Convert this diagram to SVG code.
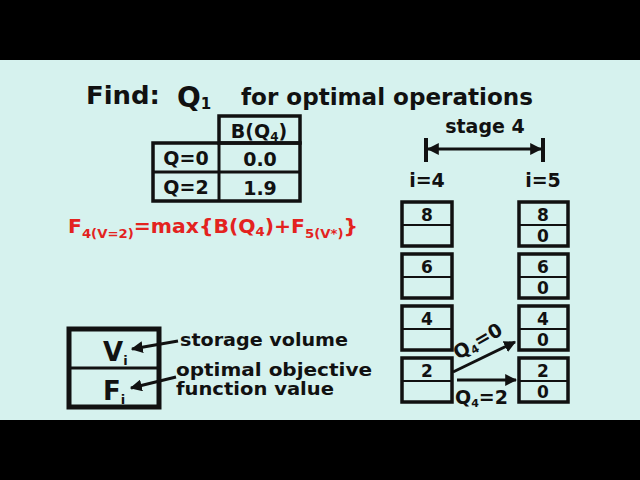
<svg xmlns="http://www.w3.org/2000/svg" width="640" height="480" viewBox="0 0 640 480">
<defs>
<style>
text{font-family:"DejaVu Sans","Liberation Sans",sans-serif;font-weight:bold;fill:#111}
.box{fill:none;stroke:#111;stroke-width:3.5}
.num{font-size:17px;text-anchor:middle}
.red{fill:#e3231f}
.lbl{font-size:18px}
</style>
<marker id="ah" viewBox="0 0 10 10" refX="9" refY="5" markerWidth="4" markerHeight="4" orient="auto-start-reverse"><path d="M0,0L10,5L0,10z" fill="#111"/></marker>
</defs>
<rect width="640" height="480" fill="#d6f2ee"/>
<rect width="640" height="60" fill="#000"/>
<rect y="420" width="640" height="60" fill="#000"/>

<g id="title">
<text x="86" y="104" font-size="25" textLength="74" lengthAdjust="spacingAndGlyphs">Find:</text>
<text x="177" y="107" font-size="28">Q<tspan font-size="15" dy="2">1</tspan></text>
<text x="241" y="105" font-size="23" textLength="292" lengthAdjust="spacingAndGlyphs">for optimal operations</text>
</g>

<g id="table">
<rect x="219" y="116" width="81" height="27" class="box"/>
<rect x="153" y="143" width="147" height="58" class="box"/>
<line x1="153" y1="172" x2="300" y2="172" stroke="#111" stroke-width="3"/>
<line x1="219" y1="143" x2="219" y2="201" stroke="#111" stroke-width="3"/>
<text x="259" y="138" font-size="19" text-anchor="middle" font-weight="normal">B(Q<tspan font-size="12" dy="3">4</tspan><tspan dy="-3">)</tspan></text>
<text x="186" y="165" font-size="19" text-anchor="middle">Q=0</text>
<text x="186" y="194" font-size="19" text-anchor="middle">Q=2</text>
<text x="260" y="166" font-size="19" text-anchor="middle">0.0</text>
<text x="260" y="195" font-size="19" text-anchor="middle">1.9</text>
</g>

<g id="formula">
<text x="68" y="233" font-size="20" class="red" textLength="290" lengthAdjust="spacingAndGlyphs">F<tspan font-size="13" dy="5">4(V=2)</tspan><tspan dy="-5">=max{B(Q</tspan><tspan font-size="13" dy="3">4</tspan><tspan dy="-3">)+F</tspan><tspan font-size="13" dy="5">5(V*)</tspan><tspan dy="-5">}</tspan></text>
</g>

<g id="stage">
<text x="485" y="133" font-size="19" text-anchor="middle">stage 4</text>
<line x1="426" y1="138" x2="426" y2="162" stroke="#111" stroke-width="4"/>
<line x1="543" y1="138" x2="543" y2="162" stroke="#111" stroke-width="4"/>
<text x="427" y="187" font-size="19" text-anchor="middle">i=4</text>
<text x="543" y="187" font-size="19" text-anchor="middle">i=5</text>
</g>

<g id="n4_8"><rect x="402" y="202" width="50" height="44" class="box"/><line x1="402" y1="225" x2="452" y2="225" stroke="#111" stroke-width="2"/><text x="427" y="221" class="num">8</text></g>
<g id="n4_6"><rect x="402" y="254" width="50" height="44" class="box"/><line x1="402" y1="277" x2="452" y2="277" stroke="#111" stroke-width="2"/><text x="427" y="273" class="num">6</text></g>
<g id="n4_4"><rect x="402" y="306" width="50" height="44" class="box"/><line x1="402" y1="329" x2="452" y2="329" stroke="#111" stroke-width="2"/><text x="427" y="325" class="num">4</text></g>
<g id="n4_2"><rect x="402" y="358" width="50" height="44" class="box"/><line x1="402" y1="381" x2="452" y2="381" stroke="#111" stroke-width="2"/><text x="427" y="377" class="num">2</text></g>

<g id="n5_8"><rect x="519" y="202" width="49" height="44" class="box"/><line x1="519" y1="225" x2="568" y2="225" stroke="#111" stroke-width="2"/><text x="543" y="221" class="num">8</text><text x="543" y="242" class="num">0</text></g>
<g id="n5_6"><rect x="519" y="254" width="49" height="44" class="box"/><line x1="519" y1="277" x2="568" y2="277" stroke="#111" stroke-width="2"/><text x="543" y="273" class="num">6</text><text x="543" y="294" class="num">0</text></g>
<g id="n5_4"><rect x="519" y="306" width="49" height="44" class="box"/><line x1="519" y1="329" x2="568" y2="329" stroke="#111" stroke-width="2"/><text x="543" y="325" class="num">4</text><text x="543" y="346" class="num">0</text></g>
<g id="n5_2"><rect x="519" y="358" width="49" height="44" class="box"/><line x1="519" y1="381" x2="568" y2="381" stroke="#111" stroke-width="2"/><text x="543" y="377" class="num">2</text><text x="543" y="398" class="num">0</text></g>

<g id="legend">
<rect x="69" y="329" width="90" height="78" fill="none" stroke="#111" stroke-width="5"/>
<line x1="69" y1="368" x2="159" y2="368" stroke="#111" stroke-width="3"/>
<text x="103" y="361" font-size="26" font-weight="normal">V<tspan font-size="13" dy="4">i</tspan></text>
<text x="103" y="400" font-size="26" font-weight="normal">F<tspan font-size="13" dy="4">i</tspan></text>
<text x="180" y="346" class="lbl" textLength="168" lengthAdjust="spacingAndGlyphs">storage volume</text>
<text x="176" y="376" class="lbl" textLength="196" lengthAdjust="spacingAndGlyphs">optimal objective</text>
<text x="176" y="395" class="lbl" textLength="158" lengthAdjust="spacingAndGlyphs">function value</text>
</g>

<g id="connectors" stroke="#111" fill="none">
<line x1="428" y1="149" x2="541" y2="149" stroke-width="3" marker-start="url(#ah)" marker-end="url(#ah)"/>
<line x1="453" y1="372" x2="515" y2="342" stroke-width="3" marker-end="url(#ah)"/>
<line x1="457" y1="380" x2="516" y2="380" stroke-width="3" marker-end="url(#ah)"/>
<line x1="178" y1="341" x2="132" y2="349" stroke-width="3" marker-end="url(#ah)"/>
<line x1="176" y1="377" x2="131" y2="388" stroke-width="3" marker-end="url(#ah)"/>
</g>
<g id="edge-labels">
<text x="0" y="0" font-size="19" transform="translate(458,360) rotate(-30)">Q<tspan font-size="11" dy="3">4</tspan><tspan dy="-3">=0</tspan></text>
<text x="455" y="404" font-size="19">Q<tspan font-size="11" dy="3">4</tspan><tspan dy="-3">=2</tspan></text>
</g>
</svg>
